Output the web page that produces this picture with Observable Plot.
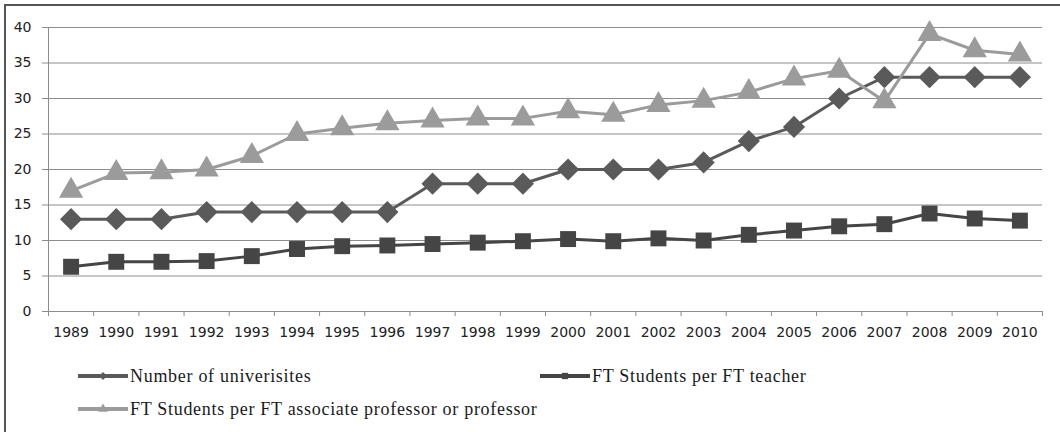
<!DOCTYPE html>
<html><head><meta charset="utf-8">
<script src="https://cdn.jsdelivr.net/npm/d3@7"></script>
<script src="https://cdn.jsdelivr.net/npm/@observablehq/plot@0.6"></script>
<style>
html,body{margin:0;padding:0;background:#fff;overflow:hidden}
#wrap{position:relative;width:1060px;height:432px;overflow:hidden;background:#fff}
#frame{position:absolute;left:4px;top:4px;width:2000px;height:2000px;border-left:2px solid #555;border-top:2px solid #555;pointer-events:none}
#chart{position:absolute;left:0;top:0}
.leg{position:absolute;display:flex;align-items:center;height:24px;font-family:"Liberation Serif",serif;font-size:18px;letter-spacing:0.7px;color:#1a1a1a;white-space:nowrap}
.leg svg{display:block;margin-right:2px}
</style></head><body>
<div id="wrap"><div id="chart"></div><div id="legend"></div><div id="frame"></div></div>
<script>
const years = [1989,1990,1991,1992,1993,1994,1995,1996,1997,1998,1999,2000,2001,2002,2003,2004,2005,2006,2007,2008,2009,2010];
const universities = [13,13,13,14,14,14,14,14,18,18,18,20,20,20,21,24,26,30,33,33,33,33];
const studentsPerTeacher = [6.3,7.0,7.0,7.1,7.8,8.8,9.2,9.3,9.5,9.7,9.9,10.2,9.9,10.3,10.0,10.8,11.4,12.0,12.3,13.8,13.1,12.8];
const studentsPerProfessor = [17.0,19.5,19.6,20.0,21.9,25.0,25.8,26.5,26.9,27.2,27.2,28.2,27.7,29.1,29.7,30.9,32.8,33.9,29.6,39.1,36.8,36.2];
const seriesNames = ["Number of univerisites","FT Students per FT teacher","FT Students per FT associate professor or professor"];
const seriesValues = [universities, studentsPerTeacher, studentsPerProfessor];
const seriesColors = ["#5a5a5a","#454545","#9b9b9b"];
const seriesSymbols = [d3.symbolDiamond2, d3.symbolSquare, d3.symbolTriangle];
const seriesR = [10,9,9];
const yTicks = [0,5,10,15,20,25,30,35,40];

const data = [];
seriesNames.forEach((name,i)=>years.forEach((yr,j)=>data.push({series:name, idx:i, year:yr, value:seriesValues[i][j]})));

const bounds = years.map(y=>y-0.5).concat([years[years.length-1]+0.5]);
const gridColor = "#8c8c8c";

const marks = [
  Plot.gridY(yTicks, {stroke: gridColor, strokeOpacity: 1, strokeWidth: 1}),
  Plot.ruleX([bounds[0]], {stroke: gridColor, strokeWidth: 1}),
  Plot.ruleY([0], {stroke: gridColor, strokeWidth: 1}),
  Plot.axisY({ticks: yTicks, tickSize: 6, tickPadding: 11, stroke: gridColor, fill: "#222", label: null}),
  Plot.axisX({ticks: bounds, tickSize: 5, tickFormat: () => "", stroke: gridColor, label: null}),
  Plot.axisX({ticks: years, tickSize: 0, tickPadding: 16, tickFormat: d => String(d), fill: "#222", label: null})
];
seriesNames.forEach((name,i)=>{
  const d = data.filter(r=>r.idx===i);
  marks.push(Plot.line(d, {x:"year", y:"value", stroke: seriesColors[i], strokeWidth: 3}));
  marks.push(Plot.dot(d, {x:"year", y:"value", symbol: seriesSymbols[i], r: seriesR[i], fill: seriesColors[i], stroke: "none"}));
});

const chart = Plot.plot({
  width: 1060,
  height: 350,
  marginLeft: 48,
  marginRight: 18,
  marginTop: 27,
  marginBottom: 39,
  style: {fontFamily: "'DejaVu Sans', sans-serif", fontSize: "14px", background: "#fff", color: "#222"},
  x: {type: "linear", domain: [bounds[0], bounds[bounds.length-1]], label: null},
  y: {domain: [0, 40], label: null},
  marks
});
document.getElementById("chart").appendChild(chart);

// legend
const legendPos = [[78,376],[540,376],[78,409]];
const legend = document.getElementById("legend");
seriesNames.forEach((name,i)=>{
  const div = document.createElement("div");
  div.className = "leg";
  div.style.left = legendPos[i][0] + "px";
  div.style.top = (legendPos[i][1]-12) + "px";
  const sw = d3.create("svg").attr("width",50).attr("height",14);
  sw.append("line").attr("x1",0).attr("x2",50).attr("y1",7).attr("y2",7).attr("stroke",seriesColors[i]).attr("stroke-width",4);
  sw.append("path").attr("transform","translate(25,7)").attr("d", d3.symbol(seriesSymbols[i], 40)()).attr("fill",seriesColors[i]);
  div.appendChild(sw.node());
  const span = document.createElement("span");
  span.textContent = name;
  div.appendChild(span);
  legend.appendChild(div);
});
</script>
</body></html>
